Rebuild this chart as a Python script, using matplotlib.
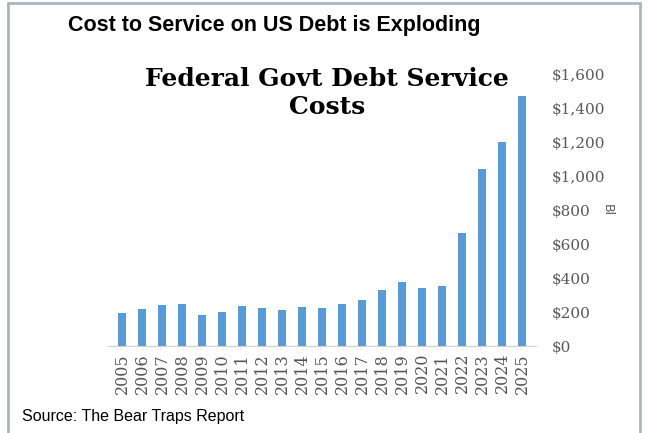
import matplotlib.pyplot as plt
from matplotlib.patches import Rectangle
from matplotlib.ticker import FuncFormatter

years = [str(y) for y in range(2005, 2026)]
cost = [192, 219, 241, 250, 184, 198, 233, 225, 212, 231, 222,
        247, 272, 329, 375, 341, 351, 665, 1041, 1200, 1470]

fig = plt.figure(figsize=(6.48, 4.33), dpi=100)
fig.patch.set_facecolor("white")

# outer frame
fig.patches.append(Rectangle((8 / 648, -0.05), 632 / 648, 1.05 - 3 / 433,
                             transform=fig.transFigure, fill=False,
                             edgecolor="#aab5bc", linewidth=2))

ax = fig.add_axes([108 / 648, (433 - 346) / 433, 428 / 648, 272 / 433])
x = range(len(years))
ax.bar(x, cost, width=0.42, color="#5b9bd5")
ax.set_xlim(-0.7, len(years) - 0.3)
ax.set_ylim(0, 1600)
ax.set_yticks(range(0, 1601, 200))
ax.yaxis.set_major_formatter(FuncFormatter(lambda v, p: "${:,.0f}".format(v)))
ax.yaxis.tick_right()
ax.yaxis.set_label_position("right")
ax.set_ylabel("Bl", rotation=270, fontsize=9, color="#595959", labelpad=2, va="center")
ax.set_xticks(list(x))
ax.set_xticklabels(years, rotation=90, family="DejaVu Serif", fontsize=11.5, color="#555555")
for lab in ax.get_yticklabels():
    lab.set_family("DejaVu Serif")
    lab.set_fontsize(11)
    lab.set_color("#595959")
ax.tick_params(axis="both", length=0, pad=5)
ax.tick_params(axis="y", pad=11)
for s in ["top", "left", "right"]:
    ax.spines[s].set_visible(False)
ax.spines["bottom"].set_color("#d0d0d0")

fig.text(68 / 648, 1 - 26 / 433, "Cost to Service on US Debt is Exploding",
         family="Liberation Sans", fontweight="bold", fontsize=15.5, va="center")
fig.text(327 / 648, 1 - 93 / 433, "Federal Govt Debt Service\nCosts",
         family="DejaVu Serif", fontweight="bold", fontsize=18, ha="center",
         va="center", linespacing=1.2)
fig.text(22 / 648, 1 - 417 / 433, "Source: The Bear Traps Report",
         family="Liberation Sans", fontsize=11.5, va="center")

fig.savefig("out.png", dpi=100)
